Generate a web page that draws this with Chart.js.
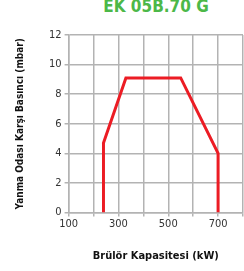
<!DOCTYPE html>
<html>
<head>
<meta charset="utf-8">
<script src="https://cdn.jsdelivr.net/npm/chart.js@4/dist/chart.umd.min.js"></script>
<style>
  html, body { margin: 0; padding: 0; background: #fff; }
  #wrap { position: relative; width: 244px; height: 271px; overflow: hidden; }
  #title {
    position: absolute; left: 0; width: 312px; top: -4px; text-align: center;
    font-family: 'Liberation Sans Narrow', 'DejaVu Sans Condensed', sans-serif;
    font-weight: bold; font-size: 17px; color: #4cb848;
  }
  #box { position: absolute; left: 0; top: 0; width: 244px; height: 271px; }
</style>
</head>
<body>
<div id="wrap">
  <div id="title">EK 05B.70 G</div>
  <div id="box"><canvas id="chart"></canvas></div>
</div>
<script>
// working range curve
const capacity = [240, 240, 330, 550, 700, 700];   // kW
const pressure = [0, 4.7, 9.1, 9.1, 4.0, 0];       // mbar
const xLabels = [100, 300, 500, 700];

const points = capacity.map((x, i) => ({ x: x, y: pressure[i] }));
const font = "'Liberation Sans Narrow', 'DejaVu Sans Condensed', 'Roboto', sans-serif";

new Chart(document.getElementById('chart').getContext('2d'), {
    type: 'line',
    data: {
        datasets: [{
            data: points,
            borderColor: '#ec1c24',
            borderWidth: 3,
            pointRadius: 0,
            fill: false,
            tension: 0
        }]
    },
    options: {
        responsive: true,
        maintainAspectRatio: false,
        animation: false,
        layout: { padding: { top: 35, right: 1, left: 14, bottom: 8 } },
        plugins: { legend: { display: false }, tooltip: { enabled: false } },
        scales: {
            x: {
                type: 'linear', min: 100, max: 800,
                grid: { color: '#b3b3b3', lineWidth: 1.5, tickLength: 4 },
                border: { color: '#b3b3b3', width: 1.5 },
                ticks: {
                    stepSize: 100, autoSkip: false, maxRotation: 0, padding: 1,
                    color: '#333', font: { family: font, size: 11 },
                    callback: v => xLabels.includes(v) ? String(v) : ''
                },
                title: {
                    display: true, text: 'Brülör Kapasitesi (kW)', color: '#111',
                    font: { family: font, size: 11, weight: 'bold' },
                    padding: { top: 18, bottom: 0 }
                }
            },
            y: {
                min: 0, max: 12,
                grid: { color: '#b3b3b3', lineWidth: 1.5, tickLength: 4 },
                border: { color: '#b3b3b3', width: 1.5 },
                ticks: {
                    stepSize: 2, padding: 3,
                    color: '#333', font: { family: font, size: 11 }
                },
                title: {
                    display: true, text: 'Yanma Odası Karşı Basıncı (mbar)', color: '#111',
                    font: { family: font, size: 10, weight: 'bold' },
                    padding: { top: 0, bottom: 20 }
                }
            }
        }
    }
});
</script>
</body>
</html>
